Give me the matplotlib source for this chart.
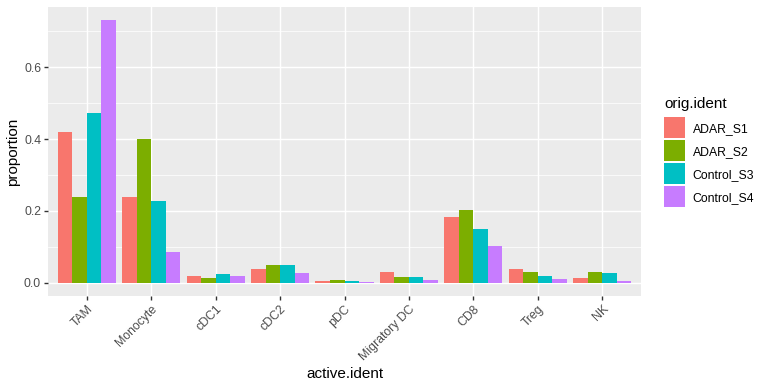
import numpy as np
import matplotlib
matplotlib.use("Agg")
import matplotlib.pyplot as plt
from matplotlib.patches import Rectangle

plt.rcParams['font.family'] = ['Liberation Sans', 'DejaVu Sans']

cell_types = ["TAM", "Monocyte", "cDC1", "cDC2", "pDC", "Migratory DC", "CD8", "Treg", "NK"]
samples = ["ADAR_S1", "ADAR_S2", "Control_S3", "Control_S4"]
colors = ["#F8766D", "#7CAE00", "#00BFC4", "#C77CFF"]

adar_s1 = [0.421, 0.240, 0.020, 0.039, 0.006, 0.031, 0.182, 0.039, 0.014]
adar_s2 = [0.240, 0.399, 0.014, 0.051, 0.008, 0.017, 0.204, 0.031, 0.031]
control_s3 = [0.472, 0.229, 0.026, 0.051, 0.004, 0.017, 0.151, 0.020, 0.028]
control_s4 = [0.731, 0.087, 0.020, 0.028, 0.003, 0.008, 0.103, 0.011, 0.006]
values = [adar_s1, adar_s2, control_s3, control_s4]

W, H = 768, 384
fig = plt.figure(figsize=(W / 100, H / 100), dpi=100)
ax = fig.add_axes([48 / W, 1 - 296 / H, (641 - 48) / W, (296 - 7) / H])
ax.set_facecolor("#EBEBEB")
for s in ax.spines.values():
    s.set_visible(False)

x = np.arange(len(cell_types))
bw = 0.9 / len(samples)
for i, (name, vals) in enumerate(zip(samples, values)):
    ax.bar(x - 0.45 + bw * (i + 0.5), vals, width=bw, color=colors[i], label=name, zorder=3)

ymax = max(max(v) for v in values)
pad = ymax * 0.05
ax.set_ylim(-pad, ymax + pad)
ax.set_xlim(-0.6, len(cell_types) - 0.4)

ax.set_yticks([0.0, 0.2, 0.4, 0.6])
ax.set_yticklabels(["0.0", "0.2", "0.4", "0.6"])
ax.set_yticks([0.1, 0.3, 0.5, 0.7], minor=True)
ax.set_xticks(x)
ax.set_xticklabels(cell_types, rotation=45, ha="right", va="top", rotation_mode="anchor")

ax.grid(True, which="major", color="white", linewidth=1.07, zorder=0)
ax.grid(True, which="minor", axis="y", color="white", linewidth=0.53, zorder=0)
ax.set_axisbelow(True)
ax.tick_params(which="major", length=2.75, width=1.0, color="#333333",
               labelsize=8.8, labelcolor="#4D4D4D", pad=2.2)
ax.tick_params(which="minor", length=0)

ax.set_xlabel("active.ident", fontsize=11, color="black", labelpad=3)
ax.set_ylabel("proportion", fontsize=11, color="black", labelpad=3)

# legend drawn by hand, in pixel positions
def fx(px):
    return px / W

def fy(py):
    return 1 - py / H

fig.text(fx(664), fy(108), "orig.ident", fontsize=11, va="baseline", ha="left")
key_w, key_h, pitch, top = 21, 21, 23.2, 116.7
for i, (name, c) in enumerate(zip(samples, colors)):
    y0 = top + i * pitch
    fig.add_artist(Rectangle((fx(664), fy(y0 + key_h)), key_w / W, key_h / H,
                             transform=fig.transFigure, facecolor=c, edgecolor="none"))
    fig.text(fx(692.7), fy(y0 + key_h / 2), name, fontsize=8.8, va="center_baseline", ha="left")

fig.savefig("out.png", dpi=100)
